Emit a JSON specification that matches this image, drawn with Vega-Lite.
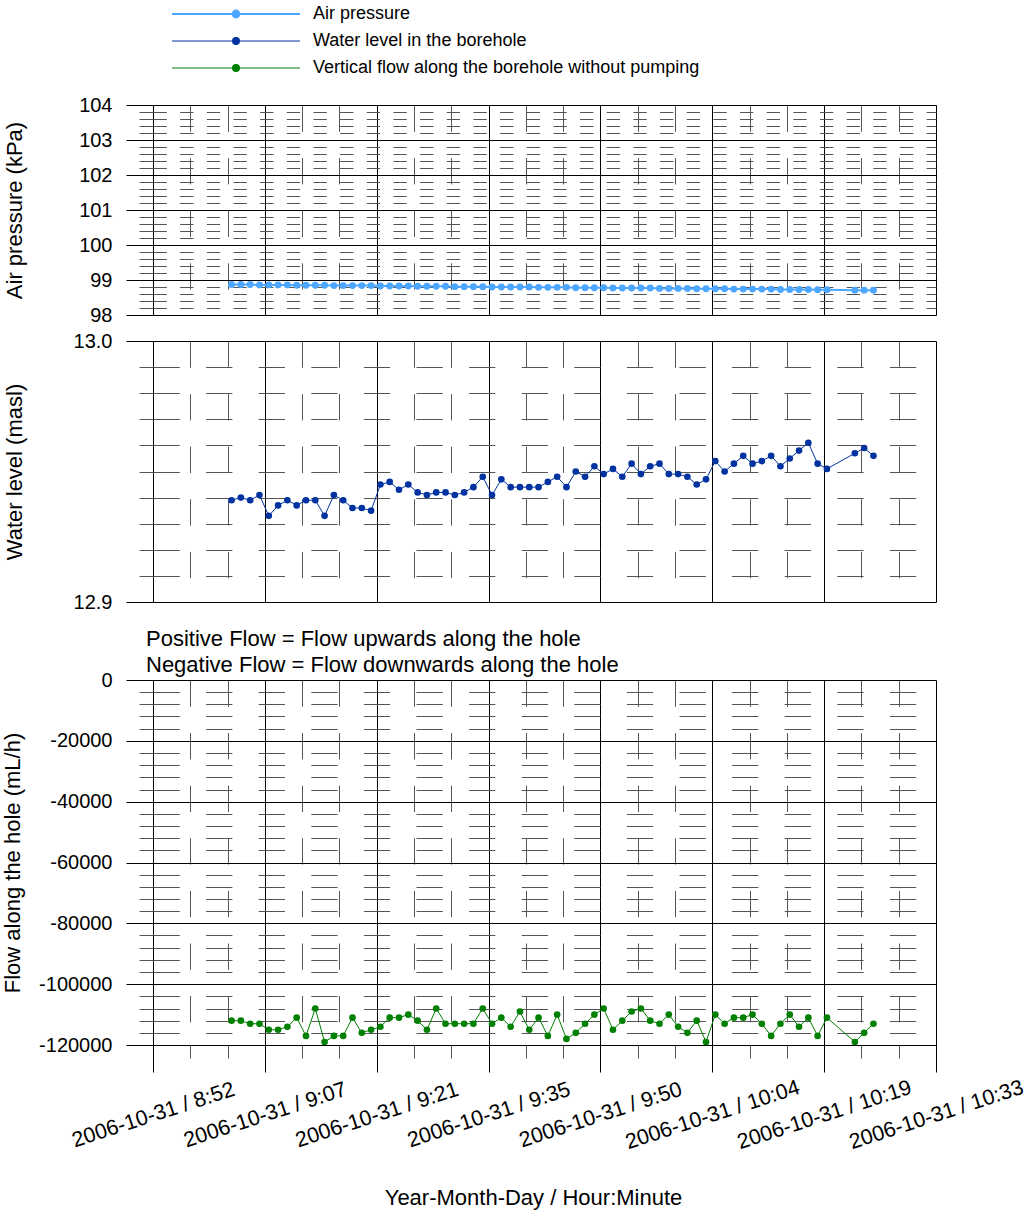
{
"$schema": "https://vega.github.io/schema/vega-lite/v6.json",
"padding": {"left": 0, "top": 5, "right": 5, "bottom": 5},
"config": {
 "font": "Liberation Sans",
 "view": {"stroke": null},
 "axis": {"labelColor": "#000", "titleColor": "#000", "labelFontSize": 20, "titleFontSize": 22, "titleFontWeight": "normal", "tickColor": "#000", "gridColor": "#000", "gridOpacity": 1, "gridWidth": 1, "domain": false},
 "legend": {"labelColor": "#000"},
 "title": {"color": "#000", "fontWeight": "normal", "fontSize": 22}
},
"datasets": {
 "air": [
{"t":"2006-10-31T09:02:16Z","v":98.87},{"t":"2006-10-31T09:03:28Z","v":98.87},{"t":"2006-10-31T09:04:40Z","v":98.87},{"t":"2006-10-31T09:05:52Z","v":98.86},{"t":"2006-10-31T09:07:04Z","v":98.86},{"t":"2006-10-31T09:08:16Z","v":98.86},{"t":"2006-10-31T09:09:28Z","v":98.86},{"t":"2006-10-31T09:10:40Z","v":98.85},{"t":"2006-10-31T09:11:52Z","v":98.85},{"t":"2006-10-31T09:13:04Z","v":98.85},{"t":"2006-10-31T09:14:16Z","v":98.85},{"t":"2006-10-31T09:15:28Z","v":98.84},{"t":"2006-10-31T09:16:40Z","v":98.84},{"t":"2006-10-31T09:17:52Z","v":98.84},{"t":"2006-10-31T09:19:04Z","v":98.84},{"t":"2006-10-31T09:20:16Z","v":98.84},{"t":"2006-10-31T09:21:28Z","v":98.83},{"t":"2006-10-31T09:22:40Z","v":98.83},{"t":"2006-10-31T09:23:52Z","v":98.83},{"t":"2006-10-31T09:25:04Z","v":98.83},{"t":"2006-10-31T09:26:16Z","v":98.82},{"t":"2006-10-31T09:27:28Z","v":98.82},{"t":"2006-10-31T09:28:40Z","v":98.82},{"t":"2006-10-31T09:29:52Z","v":98.82},{"t":"2006-10-31T09:31:04Z","v":98.81},{"t":"2006-10-31T09:32:16Z","v":98.81},{"t":"2006-10-31T09:33:28Z","v":98.81},{"t":"2006-10-31T09:34:40Z","v":98.81},{"t":"2006-10-31T09:35:52Z","v":98.80},{"t":"2006-10-31T09:37:04Z","v":98.80},{"t":"2006-10-31T09:38:16Z","v":98.80},{"t":"2006-10-31T09:39:28Z","v":98.80},{"t":"2006-10-31T09:40:40Z","v":98.80},{"t":"2006-10-31T09:41:52Z","v":98.79},{"t":"2006-10-31T09:43:04Z","v":98.79},{"t":"2006-10-31T09:44:16Z","v":98.79},{"t":"2006-10-31T09:45:28Z","v":98.79},{"t":"2006-10-31T09:46:40Z","v":98.78},{"t":"2006-10-31T09:47:52Z","v":98.78},{"t":"2006-10-31T09:49:04Z","v":98.78},{"t":"2006-10-31T09:50:16Z","v":98.78},{"t":"2006-10-31T09:51:28Z","v":98.77},{"t":"2006-10-31T09:52:40Z","v":98.77},{"t":"2006-10-31T09:53:52Z","v":98.77},{"t":"2006-10-31T09:55:04Z","v":98.77},{"t":"2006-10-31T09:56:16Z","v":98.77},{"t":"2006-10-31T09:57:28Z","v":98.76},{"t":"2006-10-31T09:58:40Z","v":98.76},{"t":"2006-10-31T09:59:52Z","v":98.76},{"t":"2006-10-31T10:01:04Z","v":98.76},{"t":"2006-10-31T10:02:16Z","v":98.75},{"t":"2006-10-31T10:03:28Z","v":98.75},{"t":"2006-10-31T10:04:40Z","v":98.75},{"t":"2006-10-31T10:05:52Z","v":98.75},{"t":"2006-10-31T10:07:04Z","v":98.74},{"t":"2006-10-31T10:08:16Z","v":98.74},{"t":"2006-10-31T10:09:28Z","v":98.74},{"t":"2006-10-31T10:10:40Z","v":98.74},{"t":"2006-10-31T10:11:52Z","v":98.74},{"t":"2006-10-31T10:13:04Z","v":98.73},{"t":"2006-10-31T10:14:16Z","v":98.73},{"t":"2006-10-31T10:15:28Z","v":98.73},{"t":"2006-10-31T10:16:40Z","v":98.73},{"t":"2006-10-31T10:17:52Z","v":98.72},{"t":"2006-10-31T10:19:04Z","v":98.72},{"t":"2006-10-31T10:22:40Z","v":98.71},{"t":"2006-10-31T10:23:52Z","v":98.71},{"t":"2006-10-31T10:25:04Z","v":98.71}
 ],
 "water": [
{"t":"2006-10-31T09:02:16Z","v":12.939},{"t":"2006-10-31T09:03:28Z","v":12.940},{"t":"2006-10-31T09:04:40Z","v":12.939},{"t":"2006-10-31T09:05:52Z","v":12.941},{"t":"2006-10-31T09:07:04Z","v":12.933},{"t":"2006-10-31T09:08:16Z","v":12.937},{"t":"2006-10-31T09:09:28Z","v":12.939},{"t":"2006-10-31T09:10:40Z","v":12.937},{"t":"2006-10-31T09:11:52Z","v":12.939},{"t":"2006-10-31T09:13:04Z","v":12.939},{"t":"2006-10-31T09:14:16Z","v":12.933},{"t":"2006-10-31T09:15:28Z","v":12.941},{"t":"2006-10-31T09:16:40Z","v":12.939},{"t":"2006-10-31T09:17:52Z","v":12.936},{"t":"2006-10-31T09:19:04Z","v":12.936},{"t":"2006-10-31T09:20:16Z","v":12.935},{"t":"2006-10-31T09:21:28Z","v":12.945},{"t":"2006-10-31T09:22:40Z","v":12.946},{"t":"2006-10-31T09:23:52Z","v":12.943},{"t":"2006-10-31T09:25:04Z","v":12.945},{"t":"2006-10-31T09:26:16Z","v":12.942},{"t":"2006-10-31T09:27:28Z","v":12.941},{"t":"2006-10-31T09:28:40Z","v":12.942},{"t":"2006-10-31T09:29:52Z","v":12.942},{"t":"2006-10-31T09:31:04Z","v":12.941},{"t":"2006-10-31T09:32:16Z","v":12.942},{"t":"2006-10-31T09:33:28Z","v":12.944},{"t":"2006-10-31T09:34:40Z","v":12.948},{"t":"2006-10-31T09:35:52Z","v":12.941},{"t":"2006-10-31T09:37:04Z","v":12.947},{"t":"2006-10-31T09:38:16Z","v":12.944},{"t":"2006-10-31T09:39:28Z","v":12.944},{"t":"2006-10-31T09:40:40Z","v":12.944},{"t":"2006-10-31T09:41:52Z","v":12.944},{"t":"2006-10-31T09:43:04Z","v":12.946},{"t":"2006-10-31T09:44:16Z","v":12.948},{"t":"2006-10-31T09:45:28Z","v":12.944},{"t":"2006-10-31T09:46:40Z","v":12.950},{"t":"2006-10-31T09:47:52Z","v":12.948},{"t":"2006-10-31T09:49:04Z","v":12.952},{"t":"2006-10-31T09:50:16Z","v":12.949},{"t":"2006-10-31T09:51:28Z","v":12.951},{"t":"2006-10-31T09:52:40Z","v":12.948},{"t":"2006-10-31T09:53:52Z","v":12.953},{"t":"2006-10-31T09:55:04Z","v":12.949},{"t":"2006-10-31T09:56:16Z","v":12.952},{"t":"2006-10-31T09:57:28Z","v":12.953},{"t":"2006-10-31T09:58:40Z","v":12.949},{"t":"2006-10-31T09:59:52Z","v":12.949},{"t":"2006-10-31T10:01:04Z","v":12.948},{"t":"2006-10-31T10:02:16Z","v":12.945},{"t":"2006-10-31T10:03:28Z","v":12.947},{"t":"2006-10-31T10:04:40Z","v":12.954},{"t":"2006-10-31T10:05:52Z","v":12.950},{"t":"2006-10-31T10:07:04Z","v":12.953},{"t":"2006-10-31T10:08:16Z","v":12.956},{"t":"2006-10-31T10:09:28Z","v":12.953},{"t":"2006-10-31T10:10:40Z","v":12.954},{"t":"2006-10-31T10:11:52Z","v":12.956},{"t":"2006-10-31T10:13:04Z","v":12.952},{"t":"2006-10-31T10:14:16Z","v":12.955},{"t":"2006-10-31T10:15:28Z","v":12.958},{"t":"2006-10-31T10:16:40Z","v":12.961},{"t":"2006-10-31T10:17:52Z","v":12.953},{"t":"2006-10-31T10:19:04Z","v":12.951},{"t":"2006-10-31T10:22:40Z","v":12.957},{"t":"2006-10-31T10:23:52Z","v":12.959},{"t":"2006-10-31T10:25:04Z","v":12.956}
 ],
 "flow": [
{"t":"2006-10-31T09:02:16Z","v":-112000},{"t":"2006-10-31T09:03:28Z","v":-112000},{"t":"2006-10-31T09:04:40Z","v":-113000},{"t":"2006-10-31T09:05:52Z","v":-113000},{"t":"2006-10-31T09:07:04Z","v":-115000},{"t":"2006-10-31T09:08:16Z","v":-115000},{"t":"2006-10-31T09:09:28Z","v":-114000},{"t":"2006-10-31T09:10:40Z","v":-111000},{"t":"2006-10-31T09:11:52Z","v":-117000},{"t":"2006-10-31T09:13:04Z","v":-108000},{"t":"2006-10-31T09:14:16Z","v":-119000},{"t":"2006-10-31T09:15:28Z","v":-117000},{"t":"2006-10-31T09:16:40Z","v":-117000},{"t":"2006-10-31T09:17:52Z","v":-111000},{"t":"2006-10-31T09:19:04Z","v":-116000},{"t":"2006-10-31T09:20:16Z","v":-115000},{"t":"2006-10-31T09:21:28Z","v":-114000},{"t":"2006-10-31T09:22:40Z","v":-111000},{"t":"2006-10-31T09:23:52Z","v":-111000},{"t":"2006-10-31T09:25:04Z","v":-110000},{"t":"2006-10-31T09:26:16Z","v":-112000},{"t":"2006-10-31T09:27:28Z","v":-115000},{"t":"2006-10-31T09:28:40Z","v":-108000},{"t":"2006-10-31T09:29:52Z","v":-113000},{"t":"2006-10-31T09:31:04Z","v":-113000},{"t":"2006-10-31T09:32:16Z","v":-113000},{"t":"2006-10-31T09:33:28Z","v":-113000},{"t":"2006-10-31T09:34:40Z","v":-108000},{"t":"2006-10-31T09:35:52Z","v":-113000},{"t":"2006-10-31T09:37:04Z","v":-111000},{"t":"2006-10-31T09:38:16Z","v":-114000},{"t":"2006-10-31T09:39:28Z","v":-109000},{"t":"2006-10-31T09:40:40Z","v":-115000},{"t":"2006-10-31T09:41:52Z","v":-111000},{"t":"2006-10-31T09:43:04Z","v":-117000},{"t":"2006-10-31T09:44:16Z","v":-110000},{"t":"2006-10-31T09:45:28Z","v":-118000},{"t":"2006-10-31T09:46:40Z","v":-116000},{"t":"2006-10-31T09:47:52Z","v":-113000},{"t":"2006-10-31T09:49:04Z","v":-110000},{"t":"2006-10-31T09:50:16Z","v":-108000},{"t":"2006-10-31T09:51:28Z","v":-115000},{"t":"2006-10-31T09:52:40Z","v":-112000},{"t":"2006-10-31T09:53:52Z","v":-109000},{"t":"2006-10-31T09:55:04Z","v":-108000},{"t":"2006-10-31T09:56:16Z","v":-112000},{"t":"2006-10-31T09:57:28Z","v":-113000},{"t":"2006-10-31T09:58:40Z","v":-110000},{"t":"2006-10-31T09:59:52Z","v":-114000},{"t":"2006-10-31T10:01:04Z","v":-116000},{"t":"2006-10-31T10:02:16Z","v":-112000},{"t":"2006-10-31T10:03:28Z","v":-119000},{"t":"2006-10-31T10:04:40Z","v":-110000},{"t":"2006-10-31T10:05:52Z","v":-113000},{"t":"2006-10-31T10:07:04Z","v":-111000},{"t":"2006-10-31T10:08:16Z","v":-111000},{"t":"2006-10-31T10:09:28Z","v":-110000},{"t":"2006-10-31T10:10:40Z","v":-113000},{"t":"2006-10-31T10:11:52Z","v":-117000},{"t":"2006-10-31T10:13:04Z","v":-113000},{"t":"2006-10-31T10:14:16Z","v":-110000},{"t":"2006-10-31T10:15:28Z","v":-114000},{"t":"2006-10-31T10:16:40Z","v":-111000},{"t":"2006-10-31T10:17:52Z","v":-117000},{"t":"2006-10-31T10:19:04Z","v":-111000},{"t":"2006-10-31T10:22:40Z","v":-119000},{"t":"2006-10-31T10:23:52Z","v":-116000},{"t":"2006-10-31T10:25:04Z","v":-113000}
 ]
},
"bounds": "full",
"spacing": 16,
"vconcat": [
 {"bounds": "flush", "spacing": 26, "vconcat": [
  {
   "width": 783, "height": 210,
   "data": {"name": "air"},
   "layer": [
    {"mark": {"type": "point", "opacity": 0},
     "encoding": {
      "x": {"field": "t", "type": "temporal", "scale": {"type": "utc", "domain": [1162284728000, 1162290788000], "nice": false},
            "axis": {"orient": "bottom", "values": [1162285016571,1162285305143,1162285882286,1162286170857,1162286748000,1162287036571,1162287613714,1162287902286,1162288479429,1162288768000,1162289345143,1162289633714,1162290210857,1162290499429], "grid": true, "gridColor": "#555", "gridDash": [26.3, 26.3], "ticks": false, "labels": false, "title": null}},
      "y": {"field": "v", "type": "quantitative", "scale": {"domain": [98, 104], "nice": false, "zero": false},
            "axis": {"orient": "left", "values": [98.2,98.4,98.6,98.8,99.2,99.4,99.6,99.8,100.2,100.4,100.6,100.8,101.2,101.4,101.6,101.8,102.2,102.4,102.6,102.8,103.2,103.4,103.6,103.8], "grid": true, "gridColor": "#555", "gridDash": [13.33, 13.33], "ticks": true, "tickSize": 14, "tickColor": "#555", "labels": false, "title": null}}
     }},
    {"mark": {"type": "line", "strokeWidth": 2, "point": {"filled": true, "size": 48, "opacity": 1}},
     "encoding": {
      "x": {"field": "t", "type": "temporal", "scale": {"type": "utc", "domain": [1162284728000, 1162290788000], "nice": false},
            "axis": {"orient": "bottom", "values": [1162284728000,1162285593714,1162286459429,1162287325143,1162288190857,1162289056571,1162289922286,1162290788000], "grid": true, "ticks": false, "labels": false, "title": null}},
      "y": {"field": "v", "type": "quantitative", "scale": {"domain": [98, 104], "nice": false, "zero": false},
            "axis": {"orient": "left", "values": [98,99,100,101,102,103,104], "format": "d", "grid": true, "ticks": true, "tickSize": 27, "labelPadding": 14, "title": "Air pressure (kPa)", "titleX": -139, "titleBaseline": "middle"}},
      "color": {"datum": "Air pressure", "type": "nominal",
                "scale": {"domain": ["Air pressure", "Water level in the borehole", "Vertical flow along the borehole without pumping"], "range": ["#4da6ff", "#0033a0", "#008000"]},
                "legend": {"orient": "none", "direction": "vertical", "legendX": 74, "legendY": -100, "title": null,
                           "symbolType": "M-16,0L16,0M-0.85,0A0.85,0.85,0,1,1,0.85,0A0.85,0.85,0,1,1,-0.85,0Z", "symbolSize": 64, "symbolStrokeWidth": 1.5,
                           "labelOffset": 68, "labelFontSize": 18, "labelLimit": 600, "rowPadding": 9,
                           "encode": {"symbols": {"update": {"fill": {"scale": "color", "field": "value"}, "stroke": {"scale": "color", "field": "value"}, "opacity": {"value": 1}, "strokeWidth": {"signal": "datum.value === 'Air pressure' ? 2 : 1.2"}}}}}}
     }}
   ],
   "resolve": {"axis": {"x": "independent", "y": "independent"}}
  },
  {
   "width": 783, "height": 261,
   "data": {"name": "water"},
   "layer": [
    {"mark": {"type": "point", "opacity": 0},
     "encoding": {
      "x": {"field": "t", "type": "temporal", "scale": {"type": "utc", "domain": [1162284728000, 1162290788000], "nice": false},
            "axis": {"orient": "bottom", "values": [1162285016571,1162285305143,1162285882286,1162286170857,1162286748000,1162287036571,1162287613714,1162287902286,1162288479429,1162288768000,1162289345143,1162289633714,1162290210857,1162290499429], "grid": true, "gridColor": "#555", "gridDash": [26.3, 26.3], "ticks": false, "labels": false, "title": null}},
      "y": {"field": "v", "type": "quantitative", "scale": {"domain": [12.9, 13.0], "nice": false, "zero": false},
            "axis": {"orient": "left", "values": [12.91,12.92,12.93,12.94,12.95,12.96,12.97,12.98,12.99], "grid": true, "gridColor": "#555", "gridDash": [26.3, 26.3], "ticks": true, "tickSize": 14, "tickColor": "#555", "labels": false, "title": null}}
     }},
    {"mark": {"type": "line", "strokeWidth": 1, "point": {"filled": true, "size": 44, "opacity": 1}},
     "encoding": {
      "x": {"field": "t", "type": "temporal", "scale": {"type": "utc", "domain": [1162284728000, 1162290788000], "nice": false},
            "axis": {"orient": "bottom", "values": [1162284728000,1162285593714,1162286459429,1162287325143,1162288190857,1162289056571,1162289922286,1162290788000], "grid": true, "ticks": false, "labels": false, "title": null}},
      "y": {"field": "v", "type": "quantitative", "scale": {"domain": [12.9, 13.0], "nice": false, "zero": false},
            "axis": {"orient": "left", "values": [12.9, 13.0], "format": ".1f", "grid": true, "ticks": true, "tickSize": 27, "labelPadding": 14, "title": "Water level (masl)", "titleX": -139, "titleBaseline": "middle"}},
      "color": {"datum": "Water level in the borehole", "type": "nominal",
                "scale": {"domain": ["Air pressure", "Water level in the borehole", "Vertical flow along the borehole without pumping"], "range": ["#4da6ff", "#0033a0", "#008000"]}}
     }}
   ],
   "resolve": {"axis": {"x": "independent", "y": "independent"}}
  }
 ]},
 {
  "width": 783, "height": 365,
  "title": {"text": ["Positive Flow = Flow upwards along the hole", "Negative Flow = Flow downwards along the hole"], "anchor": "start", "frame": "group", "fontSize": 22, "lineHeight": 26, "baseline": "bottom", "offset": -29, "dx": -7},
  "data": {"name": "flow"},
  "layer": [
   {"mark": {"type": "point", "opacity": 0},
    "encoding": {
     "x": {"field": "t", "type": "temporal", "scale": {"type": "utc", "domain": [1162284728000, 1162290788000], "nice": false},
           "axis": {"orient": "bottom", "values": [1162285016571,1162285305143,1162285882286,1162286170857,1162286748000,1162287036571,1162287613714,1162287902286,1162288479429,1162288768000,1162289345143,1162289633714,1162290210857,1162290499429], "grid": true, "gridColor": "#555", "gridDash": [26.3, 26.3], "ticks": true, "tickSize": 13, "tickColor": "#555", "labels": false, "title": null}},
     "y": {"field": "v", "type": "quantitative", "scale": {"domain": [-120000, 0], "nice": false, "zero": false},
           "axis": {"orient": "left", "values": [-116000,-112000,-108000,-104000,-96000,-92000,-88000,-84000,-76000,-72000,-68000,-64000,-56000,-52000,-48000,-44000,-36000,-32000,-28000,-24000,-16000,-12000,-8000,-4000], "grid": true, "gridColor": "#555", "gridDash": [26.3, 26.3], "ticks": true, "tickSize": 14, "tickColor": "#555", "labels": false, "title": null}}
    }},
   {"mark": {"type": "line", "strokeWidth": 1, "point": {"filled": true, "size": 44, "opacity": 1}},
    "encoding": {
     "x": {"field": "t", "type": "temporal", "scale": {"type": "utc", "domain": [1162284728000, 1162290788000], "nice": false},
           "axis": {"orient": "bottom", "values": [1162284728000,1162285593714,1162286459429,1162287325143,1162288190857,1162289056571,1162289922286,1162290788000], "grid": true, "ticks": true, "tickSize": 27,
                    "labelExpr": "utcFormat(+datum.value + 30000, '%Y-%m-%d / %-H:%M')", "labelAngle": -18, "labelAlign": "center", "labelBaseline": "middle", "labelPadding": 43, "labelFontSize": 21.5, "labelLimit": 600, "labelOverlap": false, "labelFlush": false, "labelBound": false,
                    "title": "Year-Month-Day / Hour:Minute", "titleX": 380, "titleY": 152, "titleBaseline": "middle", "titleAlign": "center"}},
     "y": {"field": "v", "type": "quantitative", "scale": {"domain": [-120000, 0], "nice": false, "zero": false},
           "axis": {"orient": "left", "values": [-120000,-100000,-80000,-60000,-40000,-20000,0], "labelExpr": "'' + datum.value", "grid": true, "ticks": true, "tickSize": 27, "labelPadding": 14, "title": "Flow along the hole (mL/h)", "titleX": -141, "titleBaseline": "middle"}},
     "color": {"datum": "Vertical flow along the borehole without pumping", "type": "nominal",
               "scale": {"domain": ["Air pressure", "Water level in the borehole", "Vertical flow along the borehole without pumping"], "range": ["#4da6ff", "#0033a0", "#008000"]}}
    }}
  ],
  "resolve": {"axis": {"x": "independent", "y": "independent"}}
 }
]
}
